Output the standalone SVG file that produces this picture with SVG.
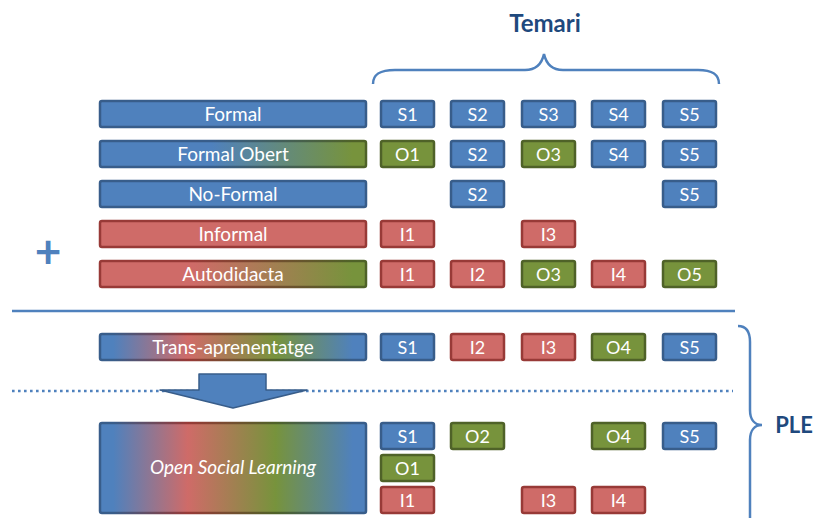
<svg xmlns="http://www.w3.org/2000/svg" width="816" height="518" viewBox="0 0 816 518">
<style>
.b{fill:#4F81BD;stroke:#385D8A;stroke-width:2.5}
.r{fill:#CF6B68;stroke:#983A37;stroke-width:2.5}
.g{fill:#77933C;stroke:#4F6228;stroke-width:2.5}
.t{fill:#FFFFFF;font-family:Lato,"Open Sans",sans-serif;font-size:18px;text-anchor:middle}
.bt{fill:#FFFFFF;font-family:Lato,"Open Sans",sans-serif;font-size:19px;text-anchor:middle}
.line{stroke:#4F81BD;stroke-width:2.5;fill:none}
.hd{fill:#1F497D;font-family:Lato,"Open Sans",sans-serif;font-weight:bold;text-anchor:middle}
</style>
<defs>
<linearGradient id="gBG" x1="0" x2="1" y1="0" y2="0">
<stop offset="0" stop-color="#4F81BD"/><stop offset="0.42" stop-color="#4F81BD"/><stop offset="0.95" stop-color="#77933C"/><stop offset="1" stop-color="#77933C"/>
</linearGradient>
<linearGradient id="gBGs" x1="0" x2="1" y1="0" y2="0">
<stop offset="0" stop-color="#385D8A"/><stop offset="0.42" stop-color="#385D8A"/><stop offset="0.95" stop-color="#4F6228"/><stop offset="1" stop-color="#4F6228"/>
</linearGradient>
<linearGradient id="gRG" x1="0" x2="1" y1="0" y2="0">
<stop offset="0" stop-color="#CF6B68"/><stop offset="0.35" stop-color="#CF6B68"/><stop offset="0.95" stop-color="#77933C"/><stop offset="1" stop-color="#77933C"/>
</linearGradient>
<linearGradient id="gRGs" x1="0" x2="1" y1="0" y2="0">
<stop offset="0" stop-color="#983A37"/><stop offset="0.35" stop-color="#983A37"/><stop offset="0.95" stop-color="#4F6228"/><stop offset="1" stop-color="#4F6228"/>
</linearGradient>
<linearGradient id="gMix" x1="0" x2="1" y1="0" y2="0">
<stop offset="0" stop-color="#4F81BD"/><stop offset="0.05" stop-color="#4F81BD"/><stop offset="0.33" stop-color="#CF6B68"/><stop offset="0.66" stop-color="#77933C"/><stop offset="0.95" stop-color="#4F81BD"/><stop offset="1" stop-color="#4F81BD"/>
</linearGradient>
<linearGradient id="gMixs" x1="0" x2="1" y1="0" y2="0">
<stop offset="0" stop-color="#385D8A"/><stop offset="0.05" stop-color="#385D8A"/><stop offset="0.33" stop-color="#983A37"/><stop offset="0.66" stop-color="#4F6228"/><stop offset="0.95" stop-color="#385D8A"/><stop offset="1" stop-color="#385D8A"/>
</linearGradient>
</defs>
<rect width="816" height="518" fill="#FFFFFF"/>

<g id="decor">
<text class="hd" x="545" y="32" font-size="24">Temari</text>
<path class="line" d="M373,84 C373,74 380,70 395,70 L525,70 C537,70 542,63 544,54 C546,63 551,70 563,70 L698,70 C712,70 719,74 719,84"/>
<text x="48" y="268" fill="#4F81BD" font-family="Lato,'Open Sans',sans-serif" font-weight="bold" font-size="46" text-anchor="middle">+</text>
<line class="line" x1="12" y1="311" x2="735" y2="311"/>
<line x1="12" y1="391" x2="733" y2="391" stroke="#4F81BD" stroke-width="2.6" stroke-dasharray="2.6 3.4"/>
<path class="line" d="M738,326 C746,326 750,331 750,342 L750,410 C750,420 755,425 762,425 C755,425 750,430 750,440 L750,520"/>
<text class="hd" x="794" y="433" font-size="22">PLE</text>
</g>

<g id="connectors">
<polygon points="199,374 266,374 266,390 307,390 233,408 160,390 199,390" fill="#4F81BD" stroke="#385D8A" stroke-width="1.5" stroke-linejoin="round"/>
</g>

<g id="bar-formal"><rect class="b" x="100" y="101" width="266" height="26" rx="2"/><text class="bt" x="233" y="120.5">Formal</text></g>
<g id="bar-formal-obert"><rect x="100" y="141" width="266" height="26" rx="2" fill="url(#gBG)" stroke="url(#gBGs)" stroke-width="2.5"/><text class="bt" x="233" y="160.5">Formal Obert</text></g>
<g id="bar-no-formal"><rect class="b" x="100" y="181" width="266" height="26" rx="2"/><text class="bt" x="233" y="200.5">No-Formal</text></g>
<g id="bar-informal"><rect class="r" x="100" y="221" width="266" height="26" rx="2"/><text class="bt" x="233" y="240.5">Informal</text></g>
<g id="bar-autodidacta"><rect x="100" y="261" width="266" height="26" rx="2" fill="url(#gRG)" stroke="url(#gRGs)" stroke-width="2.5"/><text class="bt" x="233" y="280.5">Autodidacta</text></g>
<g id="bar-trans"><rect x="100" y="334" width="266" height="26" rx="2" fill="url(#gMix)" stroke="url(#gMixs)" stroke-width="2.5"/><text class="bt" x="233" y="353.5">Trans-aprenentatge</text></g>
<g id="bar-osl"><rect x="100" y="423" width="266" height="90" rx="2" fill="url(#gMix)" stroke="url(#gMixs)" stroke-width="2.5"/><text class="bt" x="233" y="474" font-size="20" font-style="italic">Open Social Learning</text></g>

<!-- Row 1 -->
<g id="r1-s1"><rect class="b" x="381" y="101" width="53" height="26" rx="2"/><text class="t" x="407.5" y="120.5">S1</text></g>
<g id="r1-s2"><rect class="b" x="451" y="101" width="53" height="26" rx="2"/><text class="t" x="477.5" y="120.5">S2</text></g>
<g id="r1-s3"><rect class="b" x="522" y="101" width="53" height="26" rx="2"/><text class="t" x="548.5" y="120.5">S3</text></g>
<g id="r1-s4"><rect class="b" x="592" y="101" width="53" height="26" rx="2"/><text class="t" x="618.5" y="120.5">S4</text></g>
<g id="r1-s5"><rect class="b" x="663" y="101" width="53" height="26" rx="2"/><text class="t" x="689.5" y="120.5">S5</text></g>
<!-- Row 2 -->
<g id="r2-o1"><rect class="g" x="381" y="141" width="53" height="26" rx="2"/><text class="t" x="407.5" y="160.5">O1</text></g>
<g id="r2-s2"><rect class="b" x="451" y="141" width="53" height="26" rx="2"/><text class="t" x="477.5" y="160.5">S2</text></g>
<g id="r2-o3"><rect class="g" x="522" y="141" width="53" height="26" rx="2"/><text class="t" x="548.5" y="160.5">O3</text></g>
<g id="r2-s4"><rect class="b" x="592" y="141" width="53" height="26" rx="2"/><text class="t" x="618.5" y="160.5">S4</text></g>
<g id="r2-s5"><rect class="b" x="663" y="141" width="53" height="26" rx="2"/><text class="t" x="689.5" y="160.5">S5</text></g>
<!-- Row 3 -->
<g id="r3-s2"><rect class="b" x="451" y="181" width="53" height="26" rx="2"/><text class="t" x="477.5" y="200.5">S2</text></g>
<g id="r3-s5"><rect class="b" x="663" y="181" width="53" height="26" rx="2"/><text class="t" x="689.5" y="200.5">S5</text></g>
<!-- Row 4 -->
<g id="r4-i1"><rect class="r" x="381" y="221" width="53" height="26" rx="2"/><text class="t" x="407.5" y="240.5">I1</text></g>
<g id="r4-i3"><rect class="r" x="522" y="221" width="53" height="26" rx="2"/><text class="t" x="548.5" y="240.5">I3</text></g>
<!-- Row 5 -->
<g id="r5-i1"><rect class="r" x="381" y="261" width="53" height="26" rx="2"/><text class="t" x="407.5" y="280.5">I1</text></g>
<g id="r5-i2"><rect class="r" x="451" y="261" width="53" height="26" rx="2"/><text class="t" x="477.5" y="280.5">I2</text></g>
<g id="r5-o3"><rect class="g" x="522" y="261" width="53" height="26" rx="2"/><text class="t" x="548.5" y="280.5">O3</text></g>
<g id="r5-i4"><rect class="r" x="592" y="261" width="53" height="26" rx="2"/><text class="t" x="618.5" y="280.5">I4</text></g>
<g id="r5-o5"><rect class="g" x="663" y="261" width="53" height="26" rx="2"/><text class="t" x="689.5" y="280.5">O5</text></g>
<!-- Trans row -->
<g id="t-s1"><rect class="b" x="381" y="334" width="53" height="26" rx="2"/><text class="t" x="407.5" y="353.5">S1</text></g>
<g id="t-i2"><rect class="r" x="451" y="334" width="53" height="26" rx="2"/><text class="t" x="477.5" y="353.5">I2</text></g>
<g id="t-i3"><rect class="r" x="522" y="334" width="53" height="26" rx="2"/><text class="t" x="548.5" y="353.5">I3</text></g>
<g id="t-o4"><rect class="g" x="592" y="334" width="53" height="26" rx="2"/><text class="t" x="618.5" y="353.5">O4</text></g>
<g id="t-s5"><rect class="b" x="663" y="334" width="53" height="26" rx="2"/><text class="t" x="689.5" y="353.5">S5</text></g>
<!-- OSL rows -->
<g id="o-s1"><rect class="b" x="381" y="423" width="53" height="26" rx="2"/><text class="t" x="407.5" y="442.5">S1</text></g>
<g id="o-o2"><rect class="g" x="451" y="423" width="53" height="26" rx="2"/><text class="t" x="477.5" y="442.5">O2</text></g>
<g id="o-o4"><rect class="g" x="592" y="423" width="53" height="26" rx="2"/><text class="t" x="618.5" y="442.5">O4</text></g>
<g id="o-s5"><rect class="b" x="663" y="423" width="53" height="26" rx="2"/><text class="t" x="689.5" y="442.5">S5</text></g>
<g id="o-o1"><rect class="g" x="381" y="455" width="53" height="26" rx="2"/><text class="t" x="407.5" y="474.5">O1</text></g>
<g id="o-i1"><rect class="r" x="381" y="487" width="53" height="26" rx="2"/><text class="t" x="407.5" y="506.5">I1</text></g>
<g id="o-i3"><rect class="r" x="522" y="487" width="53" height="26" rx="2"/><text class="t" x="548.5" y="506.5">I3</text></g>
<g id="o-i4"><rect class="r" x="592" y="487" width="53" height="26" rx="2"/><text class="t" x="618.5" y="506.5">I4</text></g>
</svg>
